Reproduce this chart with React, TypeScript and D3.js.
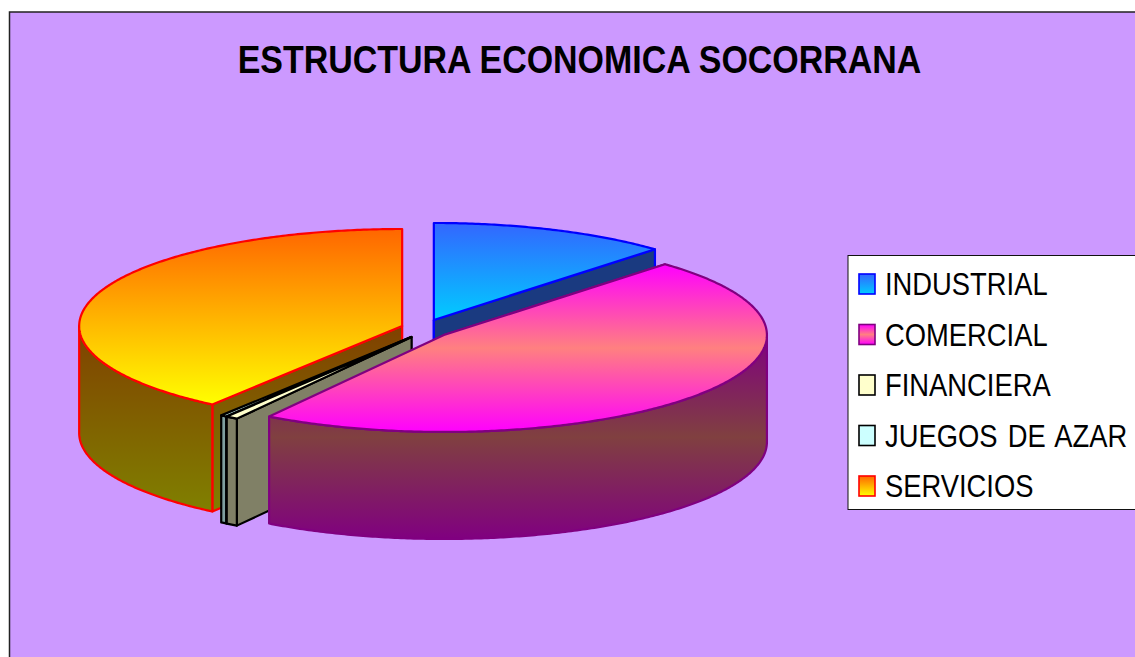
import React from "react";
import * as d3 from "d3";

const categories = ["INDUSTRIAL", "COMERCIAL", "FINANCIERA", "JUEGOS DE AZAR", "SERVICIOS"];
const values = [12, 47.1, 0.6, 0.3, 40];
const chartTitle = "ESTRUCTURA ECONOMICA SOCORRANA";

const topStops = [
  ["#3366ff", "#00ccff"],
  ["#ff00ff", "#ff8080", "#ff00ff"],
  ["#ffffcc", "#ffffcc"],
  ["#ccffff", "#ccffff"],
  ["#ff6600", "#ffff00"],
];
const wallStops = [
  ["#1a3a80", "#1a3a80"],
  ["#800080", "#804040", "#800080"],
  ["#808066", "#808066"],
  ["#7f9f9f", "#7f9f9f"],
  ["#804000", "#808000"],
];
const strokes = ["#0000ff", "#800080", "#000000", "#000000", "#ff0000"];
const drawOrder = [0, 4, 3, 2, 1];

const W = 1135;
const H = 657;
const cx = 425;
const cy = 329;
const rx = 323;
const ry = 97;
const depth = 107;
const explodeX = 24;
const explodeY = 9.7;
const xSquish = 0.855;

const arcs = d3.pie<number>().sort(null).startAngle(0).endAngle(2 * Math.PI)(values);

const line = d3.line<[number, number]>();

function Slice({ i }: { i: number }) {
  const a = arcs[i];
  const mid = (a.startAngle + a.endAngle) / 2;
  const ox = cx + explodeX * Math.sin(mid);
  const oy = cy - explodeY * Math.cos(mid);
  const pt = (t: number, dy = 0): [number, number] => [
    ox + rx * Math.sin(t),
    oy - ry * Math.cos(t) + dy,
  ];
  const sample = (t0: number, t1: number, dy = 0) => {
    const n = Math.max(2, Math.ceil(Math.abs(t1 - t0) / 0.01));
    return d3.range(n + 1).map((k) => pt(t0 + ((t1 - t0) * k) / n, dy));
  };
  const apex: [number, number] = [ox, oy];
  const apexLow: [number, number] = [ox, oy + depth];

  const topPath = line([apex, ...sample(a.startAngle, a.endAngle), apex]) + "Z";

  // outer wall: only the part of the rim that faces the viewer
  const v0 = Math.max(a.startAngle, Math.PI / 2);
  const v1 = Math.min(a.endAngle, (3 * Math.PI) / 2);
  const outer =
    v1 > v0
      ? line([...sample(v0, v1), ...sample(v1, v0, depth)]) + "Z"
      : null;

  // cut walls that face the viewer
  const startFaces = a.startAngle > 0.01;
  const endFaces = a.endAngle < Math.PI;
  const cut = (t: number) =>
    line([apex, pt(t), pt(t, depth), apexLow]) + "Z";

  const common = { stroke: strokes[i], strokeWidth: 2.2, strokeLinejoin: "round" as const };

  return (
    <g>
      {startFaces && <path d={cut(a.startAngle)} fill={`url(#wall${i})`} {...common} />}
      {endFaces && <path d={cut(a.endAngle)} fill={`url(#wall${i})`} {...common} />}
      {i === 0 && <path d={line([apex, apexLow]) as string} {...common} fill="none" />}
      {outer && <path d={outer} fill={`url(#wall${i})`} {...common} />}
      <path d={topPath} fill={`url(#top${i})`} {...common} />
    </g>
  );
}

const legendY = d3.scalePoint<string>().domain(categories).range([284, 486]);

export default function App() {
  const grad = (id: string, stops: string[]) => (
    <linearGradient key={id} id={id} x1="0" y1="0" x2="0" y2="1">
      {stops.map((c, k) => (
        <stop key={k} offset={k / (stops.length - 1)} stopColor={c} />
      ))}
    </linearGradient>
  );
  return (
    <svg
      width={W}
      height={H}
      viewBox={`0 0 ${W} ${H}`}
      style={{ position: "absolute", left: 0, top: 0, display: "block", background: "#fff" }}
    >
      <defs>
        {topStops.map((s, i) => grad(`top${i}`, s))}
        {wallStops.map((s, i) => grad(`wall${i}`, s))}
      </defs>
      <rect x={9.5} y={12} width={W + 20} height={H + 20} fill="#cc99ff" stroke="#222" strokeWidth={1.5} />
      <text
        transform={`translate(579.5,73) scale(0.893,1)`}
        textAnchor="middle"
        fontFamily="'Liberation Sans', Arial, sans-serif"
        fontWeight={700}
        fontSize={38}
        fill="#000"
      >
        {chartTitle}
      </text>
      {drawOrder.map((i) => (
        <Slice key={i} i={i} />
      ))}
      <rect x={848} y={255.5} width={W} height={254} fill="#fff" stroke="#111" strokeWidth={1} />
      {categories.map((c, i) => {
        const y = legendY(c) as number;
        return (
          <g key={c}>
            <rect x={859} y={y - 10} width={16} height={20} fill={`url(#top${i})`} stroke={strokes[i]} strokeWidth={1.6} />
            <text
              transform={`translate(885,${y + 11}) scale(${xSquish},1)`}
              fontFamily="'Liberation Sans', Arial, sans-serif"
              fontSize={32}
              wordSpacing={3}
              fill="#000"
            >
              {c}
            </text>
          </g>
        );
      })}
    </svg>
  );
}
